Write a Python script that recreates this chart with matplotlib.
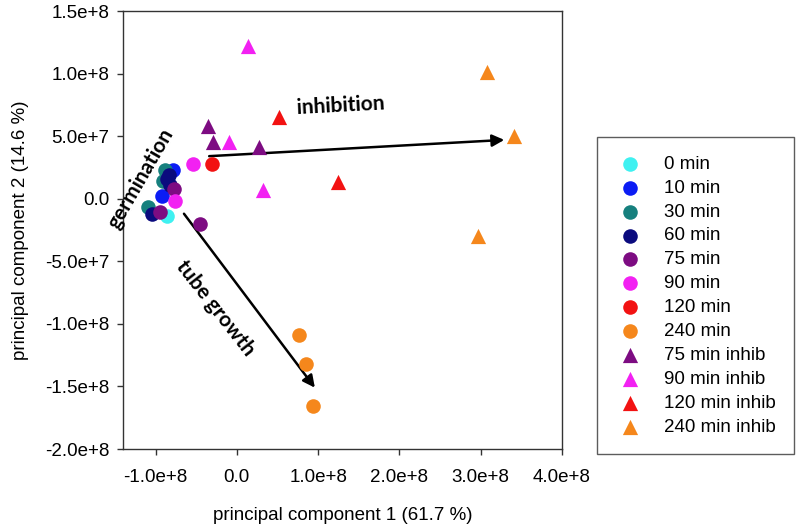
import matplotlib
matplotlib.use("Agg")
import matplotlib.pyplot as plt

# PCA scores (PC1, PC2)
labels = ["0 min", "10 min", "30 min", "60 min", "75 min", "90 min", "120 min", "240 min",
          "75 min inhib", "90 min inhib", "120 min inhib", "240 min inhib"]
markers = ["o"] * 8 + ["^"] * 4
colors = ["#3ff1f1", "#0b1cf4", "#16807e", "#0b0b7e", "#7d0c82", "#f221f2", "#f21212", "#f5871c",
          "#7d0c82", "#f221f2", "#f21212", "#f5871c"]

pc1 = [
    [-0.86e8],                                   # 0 min
    [-0.79e8, -0.92e8],                          # 10 min
    [-0.88e8, -0.91e8, -1.09e8],                 # 30 min
    [-0.86e8, -0.82e8, -0.84e8, -1.04e8],        # 60 min
    [-0.77e8, -0.94e8, -0.45e8],                 # 75 min
    [-0.76e8, -0.54e8],                          # 90 min
    [-0.31e8],                                   # 120 min
    [0.76e8, 0.85e8, 0.94e8],                    # 240 min
    [-0.36e8, -0.29e8, 0.27e8],                  # 75 min inhib
    [0.14e8, -0.10e8, 0.32e8],                   # 90 min inhib
    [0.52e8, 1.24e8],                            # 120 min inhib
    [3.08e8, 3.41e8, 2.97e8],                    # 240 min inhib
]
pc2 = [
    [-0.14e8],
    [0.23e8, 0.02e8],
    [0.23e8, 0.14e8, -0.07e8],
    [0.16e8, 0.11e8, 0.19e8, -0.12e8],
    [0.08e8, -0.11e8, -0.20e8],
    [-0.02e8, 0.28e8],
    [0.28e8],
    [-1.09e8, -1.32e8, -1.66e8],
    [0.58e8, 0.45e8, 0.41e8],
    [1.22e8, 0.45e8, 0.07e8],
    [0.65e8, 0.13e8],
    [1.01e8, 0.50e8, -0.30e8],
]

# annotation arrows: (start, end) in data units
inhib_arrow = ((-0.34e8, 0.34e8), (3.29e8, 0.47e8))
growth_arrow = ((-0.65e8, -0.12e8), (0.96e8, -1.51e8))

plt.rcParams["font.family"] = ["Liberation Sans", "DejaVu Sans"]

fig = plt.figure(figsize=(7.96, 5.27), dpi=100)
ax = fig.add_axes([123 / 796, 1 - 449 / 527, (562 - 123) / 796, (449 - 11) / 527])

for xs, ys, m, c, lab in zip(pc1, pc2, markers, colors, labels):
    ax.scatter(xs, ys, marker=m, s=110 if m == "o" else 120, color=c, label=lab,
               linewidths=0, zorder=3)

for (x0, y0), (x1, y1) in (inhib_arrow, growth_arrow):
    ax.annotate("", xy=(x1, y1), xytext=(x0, y0),
                arrowprops=dict(arrowstyle="-|>", color="black", lw=1.8,
                                mutation_scale=18, shrinkA=0, shrinkB=0), zorder=2)

note_font = dict(family=["Lato", "DejaVu Sans"], fontweight="bold", fontsize=15)
ax.text(1.28e8, 0.745e8, "inhibition", rotation=3, ha="center", va="center", **note_font)
ax.text(-1.175e8, 0.16e8, "germination", rotation=60, ha="center", va="center", **note_font)
ax.text(-0.26e8, -0.875e8, "tube growth", rotation=-52, ha="center", va="center", **note_font)

ax.set_xlim(-1.4e8, 4.0e8)
ax.set_ylim(-2.0e8, 1.5e8)
ax.set_xticks([-1e8, 0, 1e8, 2e8, 3e8, 4e8])
ax.set_xticklabels(["-1.0e+8", "0.0", "1.0e+8", "2.0e+8", "3.0e+8", "4.0e+8"])
ax.set_yticks([-2e8, -1.5e8, -1e8, -0.5e8, 0, 0.5e8, 1e8, 1.5e8])
ax.set_yticklabels(["-2.0e+8", "-1.5e+8", "-1.0e+8", "-5.0e+7", "0.0", "5.0e+7", "1.0e+8", "1.5e+8"])
ax.tick_params(direction="out", length=4.5, width=1, labelsize=13.5, color="#333333")
ax.tick_params(axis="x", pad=10)
ax.tick_params(axis="y", pad=5.5)
for sp in ax.spines.values():
    sp.set_linewidth(1)
    sp.set_color("#333333")

ax.set_xlabel("principal component 1 (61.7 %)", fontsize=13.5, labelpad=15)
ax.set_ylabel("principal component 2 (14.6 %)", fontsize=13.5, labelpad=11)

leg = fig.legend(loc="upper left", bbox_to_anchor=(597 / 796, 1 - 137 / 527),
                 fontsize=13.5, frameon=True, fancybox=False, edgecolor="#333333",
                 borderpad=1.0, labelspacing=0.36, handletextpad=1.0,
                 handlelength=1.55, borderaxespad=0, markerscale=1.0)
leg.get_frame().set_linewidth(1)

fig.savefig("out.png", dpi=100)
